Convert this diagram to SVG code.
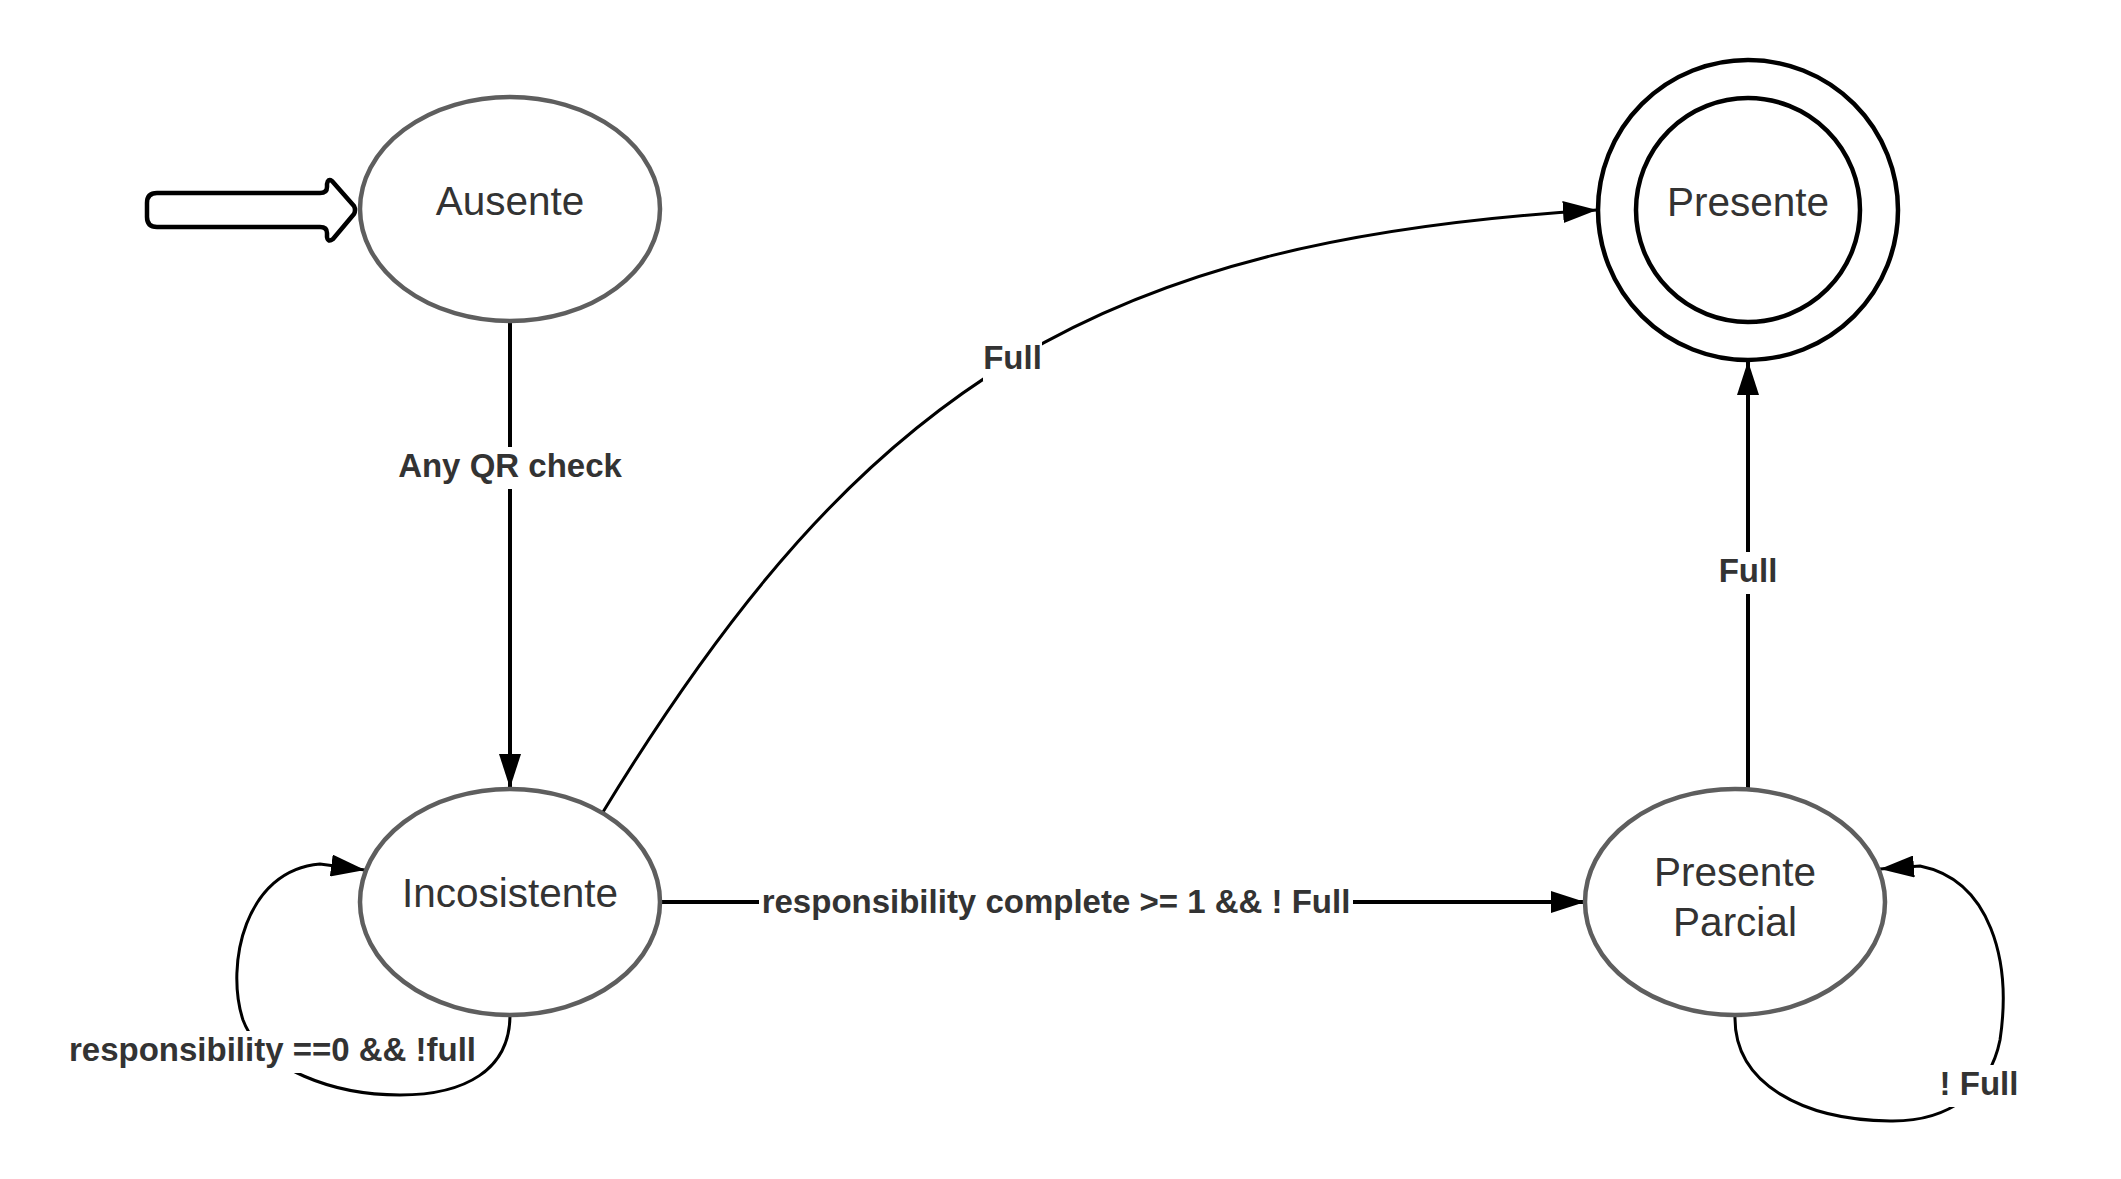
<svg xmlns="http://www.w3.org/2000/svg" width="2121" height="1179" viewBox="0 0 2121 1179">
<defs>
<style>
.state{fill:#ffffff;stroke:#5e5e5e;stroke-width:4.5}
.final{fill:#ffffff;stroke:#000000;stroke-width:4.5}
.ntext{font-family:"Liberation Sans",Arial,sans-serif;font-size:40.5px;fill:#333333;text-anchor:middle}
.lbl{font-family:"Liberation Sans",Arial,sans-serif;font-size:33px;font-weight:bold;fill:#333333;text-anchor:middle}
.lblbg{fill:#ffffff;stroke:none}
.edge{fill:none;stroke:#000000;stroke-width:4;marker-end:url(#arrow)}
.curve{fill:none;stroke:#000000;stroke-width:3;marker-end:url(#arrow)}
</style>
<marker id="arrow" markerUnits="userSpaceOnUse" viewBox="0 0 34 22" refX="34" refY="11" markerWidth="34" markerHeight="22" orient="auto">
<path d="M0,0 L34,11 L0,22 Z" fill="#000000"/>
</marker>
</defs>
<rect width="2121" height="1179" fill="#ffffff"/>

<g id="connectors">
<path id="e-ausente-incosistente" class="edge" d="M510 321 L510 788"/>
<path id="e-incosistente-presente" class="curve" d="M603 812 C863 385 1097 240 1597 210"/>
<path id="e-incosistente-parcial" class="edge" d="M660 902 L1585 902"/>
<path id="e-parcial-presente" class="edge" d="M1748 789 L1748 361"/>
<path id="e-incosistente-loop" class="curve" d="M510 1015 C510 1070 465 1095 400 1095 C335 1095 262 1070 243 1020 C225 965 245 870 320 864 L365 870"/>
<path id="e-parcial-loop" class="curve" d="M1735 1015 C1733 1085 1805 1120 1890 1121 C1950 1122 1990 1090 2000 1040 C2012 960 1990 880 1920 866 L1880 869"/>

<g id="labels">
<rect class="lblbg" x="410" y="447" width="200" height="42"/>
<text class="lbl" x="510" y="477">Any QR check</text>
<rect class="lblbg" x="983" y="339" width="59" height="42"/>
<text class="lbl" x="1012.5" y="369">Full</text>
<rect class="lblbg" x="759" y="882" width="594" height="42"/>
<text class="lbl" x="1056" y="913">responsibility complete &gt;= 1 &amp;&amp; ! Full</text>
<rect class="lblbg" x="1718" y="552" width="60" height="42"/>
<text class="lbl" x="1748" y="582">Full</text>
<rect class="lblbg" x="67" y="1031" width="411" height="42"/>
<text class="lbl" x="272.5" y="1061">responsibility ==0 &amp;&amp; !full</text>
<rect class="lblbg" x="1940" y="1065" width="78" height="42"/>
<text class="lbl" x="1979" y="1095">! Full</text>
</g>
</g>

<g id="initial">
<path d="M157 193 L320 193 Q327 193 327 187 L327 184 Q328 178 332 181 L354 206 Q356 210 354 214 L333 239 Q328 243 327 237 L327 233 Q327 227 320 227 L157 227 Q147 227 147 217 L147 203 Q147 193 157 193 Z" fill="#ffffff" stroke="#000000" stroke-width="4.5" stroke-linejoin="round"/>
</g>

<g id="node-ausente">
<ellipse class="state" cx="510" cy="209" rx="150" ry="112"/>
<text class="ntext" x="510" y="215">Ausente</text>
</g>

<g id="node-incosistente">
<ellipse class="state" cx="510" cy="902" rx="150" ry="113"/>
<text class="ntext" x="510" y="907">Incosistente</text>
</g>

<g id="node-presente">
<circle class="final" cx="1748" cy="210" r="150"/>
<circle class="final" cx="1748" cy="210" r="112"/>
<text class="ntext" x="1748" y="216">Presente</text>
</g>

<g id="node-presente-parcial">
<ellipse class="state" cx="1735" cy="902" rx="150" ry="113"/>
<text class="ntext" x="1735" y="886">Presente</text>
<text class="ntext" x="1735" y="936">Parcial</text>
</g>
</svg>
